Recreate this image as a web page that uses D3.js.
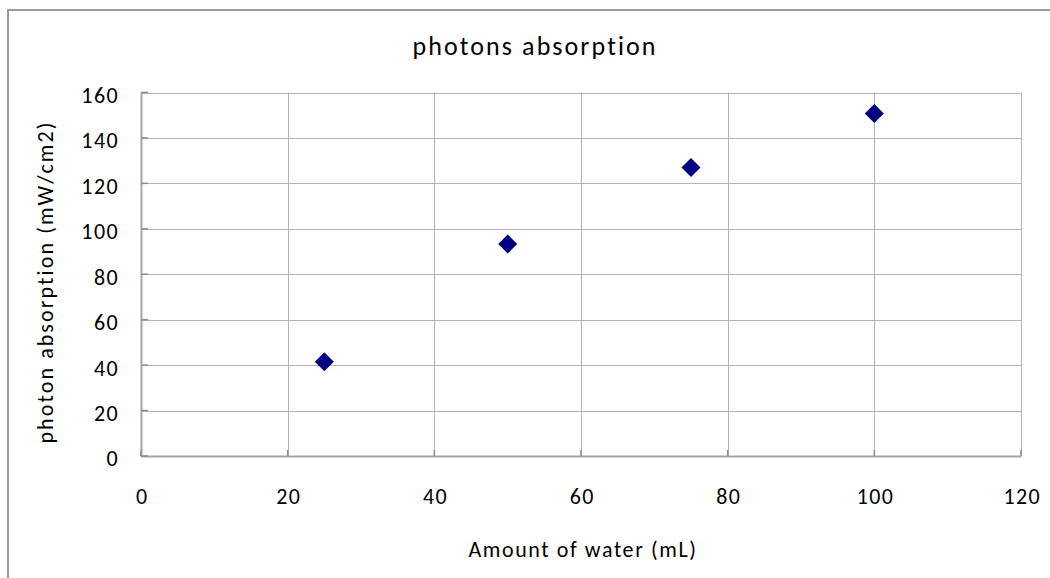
<!DOCTYPE html>
<html><head><meta charset="utf-8">
<script src="https://cdn.jsdelivr.net/npm/d3@7"></script>
<style>body{margin:0;background:#fff}svg{display:block}text{font-family:Carlito,Lato,sans-serif;fill:#000}</style>
</head><body><svg id="c" width="1050" height="578"></svg>
<script>
const xValues = [25, 50, 75, 100];
const yValues = [41.5, 93.3, 127, 150.8];
const xTicks = [0, 20, 40, 60, 80, 100, 120];
const yTicks = [0, 20, 40, 60, 80, 100, 120, 140, 160];
const title = "photons absorption";
const xTitle = "Amount of water (mL)";
const yTitle = "photon absorption (mW/cm2)";

const FONT = 'Carlito,Lato,sans-serif';
const svg = d3.select("#c");
const L = 141, R = 1021, T = 92.5, B = 456;
const x = d3.scaleLinear().domain([0, 120]).range([L, R]);
const y = d3.scaleLinear().domain([0, 160]).range([B, T]);

// outer chart border
svg.append("path").attr("d", `M8,578 V10 H1050`).attr("fill","none").attr("stroke","#9a9a9a").attr("stroke-width",2);

// gridlines
svg.append("g").selectAll("line").data(yTicks.slice(1)).join("line")
  .attr("x1", L).attr("x2", R).attr("y1", d => Math.round(y(d))+0.5).attr("y2", d => Math.round(y(d))+0.5)
  .attr("stroke","#b3b3b3").attr("stroke-width",1);
svg.append("g").selectAll("line").data(xTicks.slice(1)).join("line")
  .attr("y1", T).attr("y2", B).attr("x1", d => Math.round(x(d))+0.5).attr("x2", d => Math.round(x(d))+0.5)
  .attr("stroke","#b3b3b3").attr("stroke-width",1);

// axes
const xAxis = d3.axisBottom(x).tickValues(xTicks).tickSize(0).tickPadding(32);
const gx = svg.append("g").attr("transform", `translate(0,${B})`).call(xAxis);
gx.select(".domain").attr("stroke","#a6a6a6").attr("stroke-width",2);
gx.selectAll("text").attr("font-size", 22).attr("font-family", FONT).attr("letter-spacing", 1.4).attr("dx", 0.7);
const yAxis = d3.axisLeft(y).tickValues(yTicks).tickSize(0).tickPadding(22);
const gy = svg.append("g").attr("transform", `translate(${L},0)`).call(yAxis);
gy.select(".domain").attr("stroke","#a6a6a6").attr("stroke-width",2);
gy.selectAll("text").attr("font-size", 22).attr("font-family", FONT).attr("dy", "0.45em").attr("letter-spacing", 1.4);

// small tick marks
svg.append("g").selectAll("line").data(xTicks).join("line")
  .attr("x1", d => x(d)).attr("x2", d => x(d)).attr("y1", B).attr("y2", B-6)
  .attr("stroke","#8c8c8c").attr("stroke-width",1.5);
svg.append("g").selectAll("line").data(yTicks).join("line")
  .attr("y1", d => y(d)).attr("y2", d => y(d)).attr("x1", L).attr("x2", L+7)
  .attr("stroke","#8c8c8c").attr("stroke-width",1.5);

// points
const sym = d3.symbol().type(d3.symbolDiamond2).size(230);
svg.append("g").selectAll("path").data(xValues.map((v,i)=>[v, yValues[i]])).join("path")
  .attr("d", sym).attr("transform", d => `translate(${x(d[0])},${y(d[1])})`)
  .attr("fill","#000080");

// titles
svg.append("text").attr("x", 535).attr("y", 55).attr("text-anchor","middle").attr("font-size", 26).attr("letter-spacing", 2.1).text(title);
svg.append("text").attr("x", 583).attr("y", 557).attr("text-anchor","middle").attr("font-size", 22).attr("letter-spacing", 1.6).text(xTitle);
svg.append("text").attr("transform","translate(53,282) rotate(-90)").attr("text-anchor","middle").attr("font-size", 22).attr("letter-spacing", 2.1).text(yTitle);
</script></body></html>
